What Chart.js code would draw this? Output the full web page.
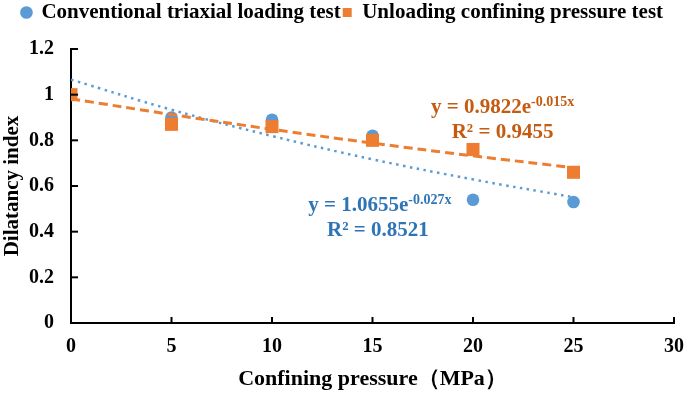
<!DOCTYPE html>
<html lang="en">
<head>
<meta charset="UTF-8">
<title>Dilatancy index</title>
<script src="https://cdn.jsdelivr.net/npm/chart.js"></script>
<style>
  html, body { margin: 0; padding: 0; background: #fff; }
  .box { width: 685px; height: 393px; }
</style>
</head>
<body>
<div class="box"><canvas id="myCanvas"></canvas></div>
<script>
// confining pressure (MPa)
const pressures = [0, 5, 10, 15, 20, 25];
const conventional = [1.0, 0.90, 0.89, 0.82, 0.54, 0.53];
const unloading = [1.0, 0.87, 0.86, 0.80, 0.76, 0.66];
// trendline values
const conventionalTrend = [1.066, 0.934, 0.819, 0.717, 0.629, 0.551];
const unloadingTrend = [0.982, 0.913, 0.848, 0.788, 0.732, 0.680];
const xTicks = [0, 5, 10, 15, 20, 25, 30];
const yTicks = [0, 0.2, 0.4, 0.6, 0.8, 1, 1.2];

const blue = "#5B9BD5";
const orange = "#ED7D31";
const serif = "'Liberation Serif', 'Times New Roman', serif";

function pts(values) {
  return pressures.map((p, i) => ({ x: p, y: values[i] }));
}

// more room under the legend
const legendGap = {
  id: "legendGap",
  afterInit(chart) {
    const lg = chart.legend;
    if (!lg) return;
    const fit = lg.fit;
    lg.fit = function () {
      fit.call(this);
      this.height += 16;
    };
  }
};

// inner tick marks, like the original
const innerTicks = {
  id: "innerTicks",
  afterDraw(chart) {
    const ctx = chart.ctx;
    const { x, y } = chart.scales;
    const area = chart.chartArea;
    ctx.save();
    ctx.strokeStyle = "#000";
    ctx.lineWidth = 2;
    xTicks.forEach(function (v) {
      if (v === 0) return;
      const px = x.getPixelForValue(v);
      ctx.beginPath();
      ctx.moveTo(px, area.bottom);
      ctx.lineTo(px, area.bottom - 6);
      ctx.stroke();
    });
    yTicks.forEach(function (v) {
      if (v === 0) return;
      const py = y.getPixelForValue(v);
      ctx.beginPath();
      ctx.moveTo(area.left, py);
      ctx.lineTo(area.left + 7, py);
      ctx.stroke();
    });
    ctx.restore();
  }
};

// fit equations with superscripts (baseline anchored)
const equations = {
  id: "equations",
  afterDatasetsDraw(chart) {
    const ctx = chart.ctx;
    const { x, y } = chart.scales;

    function eq(cx, cy, main, sup, color) {
      ctx.font = "bold 21px " + serif;
      const w1 = ctx.measureText(main).width;
      ctx.font = "bold 14px " + serif;
      const w2 = ctx.measureText(sup).width;
      let sx = cx - (w1 + w2) / 2;
      ctx.fillStyle = color;
      ctx.textAlign = "left";
      ctx.textBaseline = "alphabetic";
      ctx.font = "bold 21px " + serif;
      ctx.fillText(main, sx, cy);
      ctx.font = "bold 14px " + serif;
      ctx.fillText(sup, sx + w1, cy - 7);
    }
    function line(cx, cy, text, color) {
      ctx.font = "bold 21px " + serif;
      ctx.fillStyle = color;
      ctx.textAlign = "center";
      ctx.textBaseline = "alphabetic";
      ctx.fillText(text, cx, cy);
    }

    ctx.save();
    let ox = x.getPixelForValue(21.47), oy = y.getPixelForValue(0.92);
    eq(ox, oy, "y = 0.9822e", "-0.015x", "#C55A11");
    line(ox, oy + 25, "R² = 0.9455", "#C55A11");

    ox = x.getPixelForValue(15.37); oy = y.getPixelForValue(0.4906);
    eq(ox, oy, "y = 1.0655e", "-0.027x", "#2E75B6");
    line(ox - 2, oy + 25, "R² = 0.8521", "#2E75B6");
    ctx.restore();
  }
};

const dados = {
  datasets: [
    {
      label: "Conventional triaxial loading test",
      data: pts(conventional),
      showLine: false,
      pointStyle: "circle",
      pointRadius: 6.3,
      pointHoverRadius: 6.3,
      backgroundColor: blue,
      borderColor: blue,
      borderWidth: 0,
      order: 3
    },
    {
      label: "Unloading confining pressure test",
      data: pts(unloading),
      showLine: false,
      pointStyle: "rect",
      pointRadius: 9.2,
      pointHoverRadius: 9.2,
      backgroundColor: orange,
      borderColor: orange,
      borderWidth: 0,
      order: 2
    },
    {
      label: "trend-conventional",
      data: pts(conventionalTrend),
      showLine: true,
      pointRadius: 0,
      borderColor: blue,
      borderWidth: 2.5,
      borderDash: [2.5, 4.5],
      fill: false,
      tension: 0.4,
      order: 1
    },
    {
      label: "trend-unloading",
      data: pts(unloadingTrend),
      showLine: true,
      pointRadius: 0,
      borderColor: orange,
      borderWidth: 3,
      borderDash: [9, 5],
      fill: false,
      tension: 0.4,
      order: 0
    }
  ]
};

const config = {
  type: "scatter",
  data: dados,
  options: {
    responsive: false,
    animation: false,
    devicePixelRatio: 1,
    layout: { padding: { top: 0, right: 0, bottom: 0, left: 0 } },
    scales: {
      x: {
        type: "linear",
        min: 0,
        max: 30,
        afterBuildTicks: (s) => { s.ticks = xTicks.map((v) => ({ value: v })); },
        afterFit: (s) => { s.height = 70; s.paddingRight = 11; },
        grid: { display: false, drawTicks: false },
        border: { display: true, color: "#000", width: 2 },
        ticks: {
          color: "#000",
          padding: 12,
          font: { family: serif, size: 20, weight: "bold" }
        },
        title: {
          display: true,
          text: "Confining pressure（MPa）",
          color: "#000",
          padding: { top: 0, bottom: 0 },
          font: { family: serif, size: 22, weight: "bold" }
        }
      },
      y: {
        min: 0,
        max: 1.2,
        afterBuildTicks: (s) => { s.ticks = yTicks.map((v) => ({ value: v })); },
        afterFit: (s) => { s.width = 71; },
        grid: { display: false, drawTicks: false },
        border: { display: true, color: "#000", width: 2 },
        ticks: {
          color: "#000",
          padding: 17,
          font: { family: serif, size: 20, weight: "bold" },
          callback: (v) => String(Math.round(v * 10) / 10)
        },
        title: {
          display: true,
          text: "Dilatancy index",
          color: "#000",
          padding: { top: 0, bottom: 0 },
          font: { family: serif, size: 21, weight: "bold" }
        }
      }
    },
    plugins: {
      tooltip: { enabled: false },
      legend: {
        display: true,
        position: "top",
        labels: {
          usePointStyle: true,
          boxHeight: 9,
          boxWidth: 9,
          padding: 2,
          color: "#000",
          font: { family: serif, size: 21, weight: "bold" },
          filter: (item) => item.datasetIndex < 2,
          sort: (a, b) => a.datasetIndex - b.datasetIndex
        }
      }
    }
  },
  plugins: [legendGap, innerTicks, equations]
};

const canvas = document.getElementById("myCanvas");
canvas.width = 685;
canvas.height = 393;
const myChart = new Chart(canvas, config);
</script>
</body>
</html>
